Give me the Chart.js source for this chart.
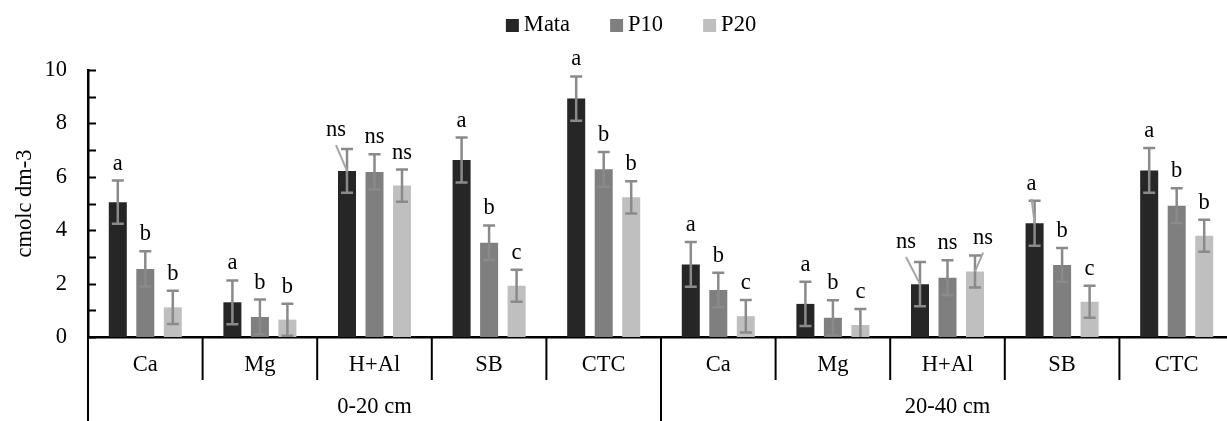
<!DOCTYPE html>
<html>
<head>
<meta charset="utf-8">
<script src="https://cdn.jsdelivr.net/npm/chart.js@4.4.0/dist/chart.umd.min.js"></script>
<style>
html, body { margin: 0; padding: 0; background: #fff; overflow: hidden; }
#wrap { width: 1236px; height: 421px; }
</style>
</head>
<body>
<div id="wrap"><canvas id="canvas"></canvas></div>
<script>
// soil depth groups and the attributes inside each group
var depths = ['0-20 cm', '20-40 cm'];
var attributes = ['Ca', 'Mg', 'H+Al', 'SB', 'CTC'];
var series = ['Mata', 'P10', 'P20'];

// means (cmolc dm-3), first 5 = 0-20 cm, last 5 = 20-40 cm
var mata = [5.05, 1.30, 6.22, 6.63, 8.93, 2.72, 1.24, 1.98, 4.26, 6.24];
var p10 = [2.55, 0.75, 6.18, 3.53, 6.28, 1.76, 0.72, 2.22, 2.70, 4.92];
var p20 = [1.11, 0.65, 5.67, 1.92, 5.23, 0.78, 0.45, 2.45, 1.32, 3.79];

// error bar half-lengths
var mataErr = [0.81, 0.82, 0.82, 0.84, 0.83, 0.84, 0.83, 0.83, 0.84, 0.84];
var p10Err = [0.66, 0.65, 0.66, 0.65, 0.65, 0.65, 0.66, 0.65, 0.63, 0.65];
var p20Err = [0.62, 0.60, 0.60, 0.60, 0.60, 0.61, 0.60, 0.60, 0.60, 0.60];

// letters of the mean comparison test
var mataLetters = ['a', 'a', 'ns', 'a', 'a', 'a', 'a', 'ns', 'a', 'a'];
var p10Letters = ['b', 'b', 'ns', 'b', 'b', 'b', 'b', 'ns', 'b', 'b'];
var p20Letters = ['b', 'b', 'ns', 'c', 'b', 'c', 'c', 'ns', 'c', 'b'];

var yTicks = [0, 2, 4, 6, 8, 10];

var labels = [];
depths.forEach(function () {
    attributes.forEach(function (a) { labels.push(a); });
});

var FONT = "'Liberation Serif', 'Times New Roman', serif";
var FSIZE = 22.5;
var errs = [mataErr, p10Err, p20Err];
var letters = [mataLetters, p10Letters, p20Letters];
// labels that were dragged aside in the original, with a leader line
var moved = { '0-2': [-11, -2], '0-7': [-14, -3], '2-7': [8, -1], '0-8': [-3, 0] };

var extras = {
    id: 'extras',
    afterDraw: function (chart) {
        var ctx = chart.ctx;
        var x = chart.scales.x, y = chart.scales.y;
        var area = chart.chartArea;
        ctx.save();

        // inside tick marks on the y axis
        ctx.strokeStyle = '#000';
        ctx.lineWidth = 2;
        for (var v = 0; v <= 10; v++) {
            var py = Math.round(y.getPixelForValue(v)) + 0.5;
            ctx.beginPath();
            ctx.moveTo(area.left, py);
            ctx.lineTo(area.left + 8, py);
            ctx.stroke();
        }

        // category separators and depth group separators
        var half = (x.getPixelForValue(1) - x.getPixelForValue(0)) / 2;
        for (var i = 0; i <= labels.length; i++) {
            var px = i < labels.length ? x.getPixelForValue(i) - half : x.getPixelForValue(i - 1) + half;
            var groupEdge = i % attributes.length === 0;
            ctx.beginPath();
            ctx.moveTo(px, area.bottom);
            ctx.lineTo(px, groupEdge ? chart.height : area.bottom + 43);
            ctx.stroke();
        }

        // depth labels
        ctx.fillStyle = '#000';
        ctx.font = FSIZE + 'px ' + FONT;
        ctx.textAlign = 'center';
        ctx.textBaseline = 'middle';
        depths.forEach(function (d, g) {
            var a = x.getPixelForValue(g * attributes.length);
            var b = x.getPixelForValue((g + 1) * attributes.length - 1);
            ctx.fillText(d, (a + b) / 2, 407);
        });

        // legend
        var items = chart.data.datasets.map(function (ds) {
            return { text: ds.label, color: ds.backgroundColor, w: ctx.measureText(ds.label).width };
        });
        var total = 0;
        items.forEach(function (it) { total += 13 + 5 + it.w; });
        total += 40 * (items.length - 1);
        var lx = 631 - total / 2;
        ctx.textAlign = 'left';
        items.forEach(function (it) {
            ctx.fillStyle = it.color;
            ctx.fillRect(lx, 19, 13, 13);
            ctx.fillStyle = '#000';
            ctx.fillText(it.text, lx + 18, 25);
            lx += 13 + 5 + it.w + 40;
        });
        ctx.restore();
    },
    afterDatasetsDraw: function (chart) {
        var ctx = chart.ctx;
        var y = chart.scales.y;
        ctx.save();
        chart.data.datasets.forEach(function (ds, d) {
            var meta = chart.getDatasetMeta(d);
            meta.data.forEach(function (bar, i) {
                var v = ds.data[i], e = errs[d][i];
                var top = y.getPixelForValue(v + e);
                var bot = y.getPixelForValue(Math.max(0, v - e));
                ctx.strokeStyle = '#8a8a8a';
                ctx.lineWidth = 2.5;
                ctx.beginPath();
                ctx.moveTo(bar.x, top);
                ctx.lineTo(bar.x, bot);
                ctx.moveTo(bar.x - 6, top);
                ctx.lineTo(bar.x + 6, top);
                if (v - e > 0) {
                    ctx.moveTo(bar.x - 6, bot);
                    ctx.lineTo(bar.x + 6, bot);
                }
                ctx.stroke();

                var off = moved[d + '-' + i] || [0, 0];
                var tx = bar.x + off[0];
                var ty = top - 11 + off[1];
                if (moved[d + '-' + i]) {
                    ctx.strokeStyle = '#a6a6a6';
                    ctx.lineWidth = 2;
                    ctx.beginPath();
                    ctx.moveTo(tx, ty + 9);
                    ctx.lineTo(bar.x, bar.y);
                    ctx.stroke();
                }
                ctx.fillStyle = '#000';
                ctx.font = FSIZE + 'px ' + FONT;
                ctx.textAlign = 'center';
                ctx.textBaseline = 'alphabetic';
                ctx.fillText(letters[d][i], tx, ty);
            });
        });
        ctx.restore();
    }
};

var ctx = document.getElementById('canvas');
new Chart(ctx, {
    type: 'bar',
    data: {
        labels: labels,
        datasets: [
            { label: series[0], data: mata, backgroundColor: '#262626' },
            { label: series[1], data: p10, backgroundColor: '#7f7f7f' },
            { label: series[2], data: p20, backgroundColor: '#bfbfbf' }
        ]
    },
    options: {
        responsive: true,
        maintainAspectRatio: false,
        animation: false,
        datasets: {
            bar: { categoryPercentage: 0.72, barPercentage: 0.655 }
        },
        layout: { padding: { top: 70, right: 2, left: 0, bottom: 0 } },
        plugins: {
            legend: { display: false },
            tooltip: { enabled: false }
        },
        scales: {
            x: {
                grid: { display: false, drawTicks: false },
                border: { color: '#000', width: 2.5 },
                ticks: {
                    color: '#000',
                    padding: 15,
                    font: { family: FONT, size: FSIZE },
                    maxRotation: 0,
                    autoSkip: false
                },
                afterFit: function (s) { s.height = 84; }
            },
            y: {
                min: 0,
                max: 10,
                grid: { display: false, drawTicks: false },
                border: { color: '#000', width: 2.5 },
                ticks: {
                    stepSize: 1,
                    color: '#000',
                    padding: 21,
                    font: { family: FONT, size: FSIZE },
                    callback: function (v) { return yTicks.indexOf(v) >= 0 ? v : ''; }
                },
                title: {
                    display: true,
                    text: 'cmolc dm-3',
                    color: '#000',
                    font: { family: FONT, size: FSIZE },
                    padding: { top: 12, bottom: 0 }
                },
                afterFit: function (s) { s.width = 88; }
            }
        }
    },
    plugins: [extras]
});
</script>
</body>
</html>
